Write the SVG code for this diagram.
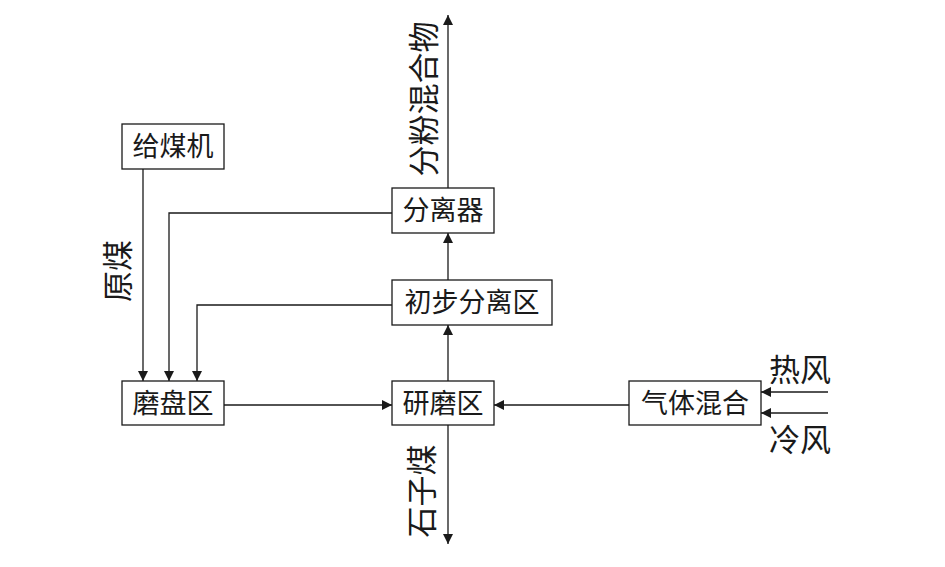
<svg xmlns="http://www.w3.org/2000/svg" width="945" height="567" viewBox="0 0 945 567">
<style>
.box{fill:#fff;stroke:#1a1a1a;stroke-width:1.3}
.t{font-family:"Liberation Serif","Noto Sans CJK SC",serif;font-size:27px;fill:#1a1a1a;text-anchor:middle;dominant-baseline:central}
.lt{font-family:"Liberation Serif","Noto Sans CJK SC",serif;font-size:31px;fill:#1a1a1a;text-anchor:middle;dominant-baseline:central}
.c{fill:none;stroke:#1a1a1a;stroke-width:1.3}
</style>
<defs>
<marker id="ah" viewBox="0 0 10 10" refX="10" refY="5" markerWidth="10" markerHeight="10" markerUnits="userSpaceOnUse" orient="auto">
<path d="M0,0 L10,5 L0,10 Z" fill="#1a1a1a"/>
</marker>
</defs>
<rect width="945" height="567" fill="#fff"/>
<g id="connectors">
<path class="c" d="M143,169 V381" marker-end="url(#ah)"/>
<path class="c" d="M392,213 H169 V381" marker-end="url(#ah)"/>
<path class="c" d="M392,305 H197 V381" marker-end="url(#ah)"/>
<path class="c" d="M224,405 H392" marker-end="url(#ah)"/>
<path class="c" d="M629,405 H494" marker-end="url(#ah)"/>
<path class="c" d="M448,381 V325" marker-end="url(#ah)"/>
<path class="c" d="M448,280 V233" marker-end="url(#ah)"/>
<path class="c" d="M448,188 V15" marker-end="url(#ah)"/>
<path class="c" d="M448,425 V544" marker-end="url(#ah)"/>
<path class="c" d="M828,392 H761" marker-end="url(#ah)"/>
<path class="c" d="M828,413 H761" marker-end="url(#ah)"/>
<text class="lt" transform="translate(118,271) rotate(-90)">原煤</text>
<text class="lt" transform="translate(424,99) rotate(-90)">分粉混合物</text>
<text class="lt" transform="translate(422,491) rotate(-90)">石子煤</text>
<text class="lt" x="800" y="370">热风</text>
<text class="lt" x="800" y="440">冷风</text>
</g>
<g id="feeder"><rect class="box" x="122" y="124" width="102" height="45"/><text class="t" x="173" y="147">给煤机</text></g>
<g id="separator"><rect class="box" x="392" y="188" width="102" height="45"/><text class="t" x="443" y="211">分离器</text></g>
<g id="presep"><rect class="box" x="392" y="280" width="160" height="45"/><text class="t" x="472" y="303">初步分离区</text></g>
<g id="disc"><rect class="box" x="122" y="381" width="102" height="44"/><text class="t" x="173" y="404">磨盘区</text></g>
<g id="grind"><rect class="box" x="392" y="381" width="102" height="44"/><text class="t" x="443" y="404">研磨区</text></g>
<g id="gasmix"><rect class="box" x="629" y="381" width="132" height="44"/><text class="t" x="695" y="404">气体混合</text></g>
</svg>
